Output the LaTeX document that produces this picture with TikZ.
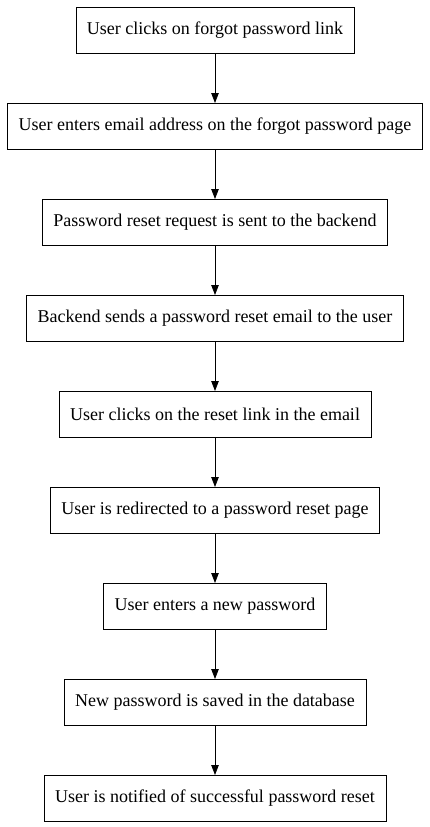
\documentclass[tikz,border=0pt]{standalone}
\usepackage{fontspec}
\setmainfont{Liberation Serif}
\usetikzlibrary{positioning,arrows.meta}

\tikzset{
	stepbox/.style={draw, thick, rectangle, outer sep=0pt, minimum height=46pt, inner xsep=11pt, font=\fontsize{18}{21}\selectfont},
	flow/.style={thick, -{Triangle[length=10pt, width=7.5pt]}}
}

\begin{document}
\begin{tikzpicture}[node distance=50pt]
	\useasboundingbox (0,0) rectangle (430pt,-827pt);
	\node[stepbox] (s1) at (215pt,-30pt) {User clicks on forgot password link};
	\node[stepbox, below=of s1] (s2) {User enters email address on the forgot password page};
	\node[stepbox, below=of s2] (s3) {Password reset request is sent to the backend};
	\node[stepbox, below=of s3] (s4) {Backend sends a password reset email to the user};
	\node[stepbox, below=of s4] (s5) {User clicks on the reset link in the email};
	\node[stepbox, below=of s5] (s6) {User is redirected to a password reset page};
	\node[stepbox, below=of s6] (s7) {User enters a new password};
	\node[stepbox, below=of s7] (s8) {New password is saved in the database};
	\node[stepbox, below=of s8] (s9) {User is notified of successful password reset};
	\foreach \a/\b in {s1/s2, s2/s3, s3/s4, s4/s5, s5/s6, s6/s7, s7/s8, s8/s9} {
		\draw[flow] (\a) -- (\b);
	}
\end{tikzpicture}
\end{document}
